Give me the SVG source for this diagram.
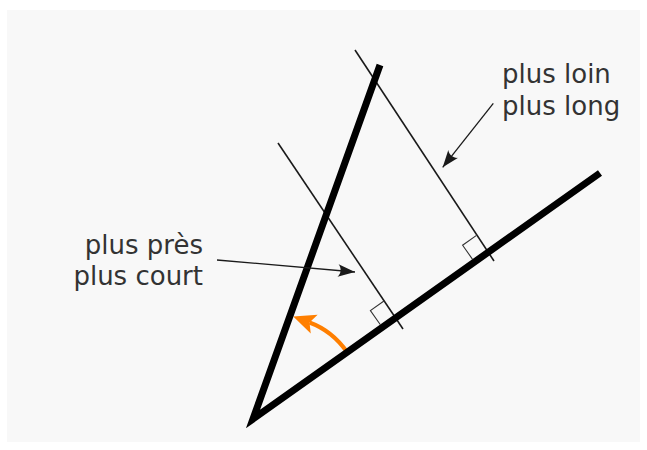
<svg xmlns="http://www.w3.org/2000/svg" width="647" height="450" viewBox="0 0 647 450">
  <style>
    .thick { fill: none; stroke: #000; stroke-width: 7; stroke-linejoin: miter; stroke-linecap: butt; }
    .thin { fill: none; stroke: #1a1a1a; stroke-width: 1.6; }
    .square { fill: none; stroke: #333; stroke-width: 1.1; }
    .conn { fill: none; stroke: #1a1a1a; stroke-width: 1.3; marker-end: url(#arrowBlack); }
    .angle { fill: none; stroke: #ff7f00; stroke-width: 4; marker-end: url(#arrowOrange); }
    .label { font-family: "DejaVu Sans", sans-serif; font-size: 26px; fill: #333; }
  </style>
  <defs>
    <marker id="arrowBlack" markerUnits="userSpaceOnUse" viewBox="-18 -8 20 16" refX="0" refY="0" markerWidth="20" markerHeight="16" orient="auto" overflow="visible">
      <path d="M0,0 L-17,-6.3 C-13.6,-2.6 -13.6,2.6 -17,6.3 Z" fill="#1a1a1a"/>
    </marker>
    <marker id="arrowOrange" markerUnits="userSpaceOnUse" viewBox="-6 -11 25 22" refX="0" refY="0" markerWidth="25" markerHeight="22" orient="auto" overflow="visible">
      <path d="M17.3,0 L-5,-10 L0,0 L-5,10 Z" fill="#ff7f00"/>
    </marker>
  </defs>

  <rect id="background" x="7" y="10" width="633" height="432" fill="#f8f8f8"/>

  <g id="angle-arc">
    <path class="angle" d="M347,352 C337.8,338.9 324.5,328 309.5,322.5"/>
  </g>

  <g id="perpendicular-far">
    <line class="thin" x1="355" y1="50" x2="494" y2="261"/>
    <path class="square" d="M476.5,235.4 L462.6,245.2 L472.4,259.1"/>
  </g>

  <g id="perpendicular-near">
    <line class="thin" x1="278" y1="143" x2="403" y2="329"/>
    <path class="square" d="M384.3,300.8 L370.4,310.6 L380.2,324.5"/>
  </g>

  <g id="angle-sides">
    <polyline class="thick" points="380,65 253,419 600,173"/>
  </g>

  <g id="connectors">
    <line class="conn" x1="493.3" y1="103.3" x2="442.7" y2="167.3"/>
    <line class="conn" x1="217" y1="260" x2="355" y2="272"/>
  </g>

  <g id="label-far">
    <text class="label" x="502" y="83">plus loin</text>
    <text class="label" x="502" y="115">plus long</text>
  </g>

  <g id="label-near">
    <text class="label" x="203" y="254" text-anchor="end">plus près</text>
    <text class="label" x="203" y="285" text-anchor="end">plus court</text>
  </g>
</svg>
